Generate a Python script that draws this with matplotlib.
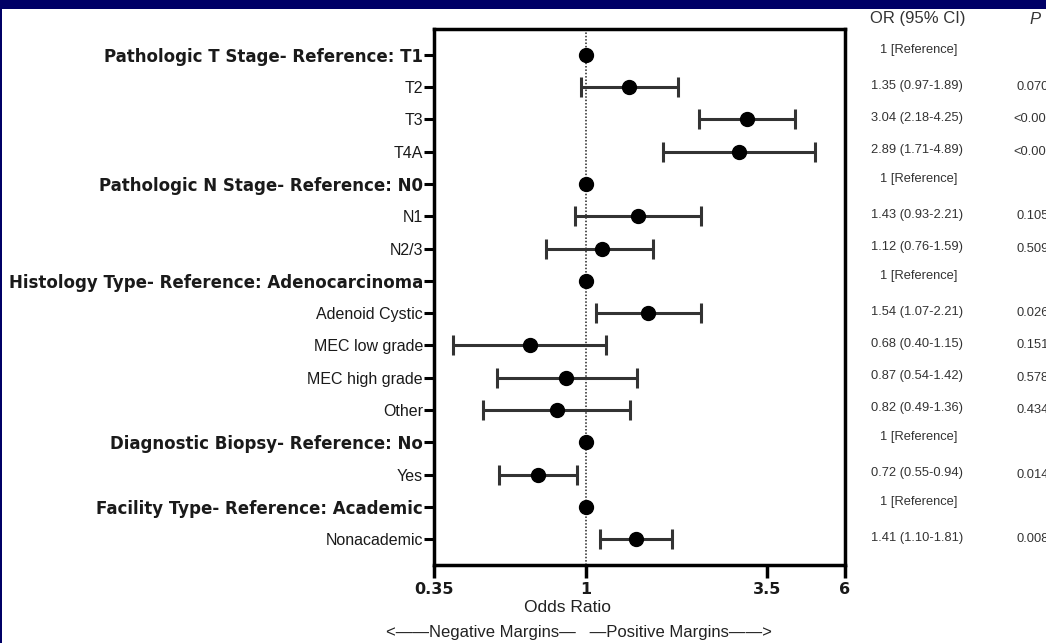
import matplotlib
matplotlib.use("Agg")
import matplotlib.pyplot as plt
from matplotlib.transforms import blended_transform_factory
from matplotlib.patches import Rectangle
import numpy as np

plt.rcParams['font.family'] = ['Liberation Sans', 'DejaVu Sans']

labels = ["Pathologic T Stage- Reference: T1", "T2", "T3", "T4A",
          "Pathologic N Stage- Reference: N0", "N1", "N2/3",
          "Histology Type- Reference: Adenocarcinoma", "Adenoid Cystic",
          "MEC low grade", "MEC high grade", "Other",
          "Diagnostic Biopsy- Reference: No", "Yes",
          "Facility Type- Reference: Academic", "Nonacademic"]
is_header = [True, False, False, False, True, False, False, True, False,
             False, False, False, True, False, True, False]
or_vals = [1, 1.35, 3.04, 2.89, 1, 1.43, 1.12, 1, 1.54, 0.68, 0.87, 0.82, 1, 0.72, 1, 1.41]
ci_lo = [np.nan, 0.97, 2.18, 1.71, np.nan, 0.93, 0.76, np.nan, 1.07, 0.40, 0.54, 0.49, np.nan, 0.55, np.nan, 1.10]
ci_hi = [np.nan, 1.89, 4.25, 4.89, np.nan, 2.21, 1.59, np.nan, 2.21, 1.15, 1.42, 1.36, np.nan, 0.94, np.nan, 1.81]
or_text = ["1 [Reference]", "1.35 (0.97-1.89)", "3.04 (2.18-4.25)", "2.89 (1.71-4.89)",
           "1 [Reference]", "1.43 (0.93-2.21)", "1.12 (0.76-1.59)",
           "1 [Reference]", "1.54 (1.07-2.21)", "0.68 (0.40-1.15)", "0.87 (0.54-1.42)",
           "0.82 (0.49-1.36)", "1 [Reference]", "0.72 (0.55-0.94)",
           "1 [Reference]", "1.41 (1.10-1.81)"]
p_text = ["", "0.070", "<0.001", "<0.001", "", "0.105", "0.509", "", "0.026",
          "0.151", "0.578", "0.434", "", "0.014", "", "0.008"]
xticks = [0.35, 1, 3.5, 6]
xtick_labels = ["0.35", "1", "3.5", "6"]

W, H = 1046, 643
fig = plt.figure(figsize=(W / 100, H / 100), dpi=100)
fig.patch.set_facecolor("white")
fig.patches.append(Rectangle((0, 1 - 9 / H), 1, 9 / H, transform=fig.transFigure,
                             facecolor="#000066", edgecolor="none", zorder=0))
fig.patches.append(Rectangle((0, 0), 2 / W, 1, transform=fig.transFigure,
                             facecolor="#000066", edgecolor="none", zorder=0))

ax = fig.add_axes([434 / W, 1 - 565 / H, (845 - 434) / W, (565 - 29) / H])
n = len(labels)
y = np.arange(n)
or_arr = np.array(or_vals)
lo = np.array(ci_lo)
hi = np.array(ci_hi)

ax.axvline(1, color="#222222", linestyle=(0, (1, 1.2)), linewidth=1.1, zorder=1)
mask = ~np.isnan(lo)
ax.errorbar(or_arr[mask], y[mask], xerr=[or_arr[mask] - lo[mask], hi[mask] - or_arr[mask]],
            fmt="none", ecolor="#333333", elinewidth=2.2, capsize=7.5, capthick=2.2, zorder=2)
ax.plot(or_arr, y, "o", color="black", markersize=10, zorder=3)

ax.set_xscale("log")
ax.set_xlim(0.35, 6)
ax.set_ylim(15.8, -0.8)
ax.set_xticks(xticks)
ax.set_xticklabels(xtick_labels, fontsize=11.5, fontweight="bold", family="DejaVu Sans",
                   color="#1a1a1a")
ax.xaxis.set_minor_locator(matplotlib.ticker.NullLocator())
ax.set_yticks(y)
ax.set_yticklabels(labels, fontsize=11.5)
for lab, hdr in zip(ax.get_yticklabels(), is_header):
    if hdr:
        lab.set_fontweight("bold")
        lab.set_family("DejaVu Sans")
        lab.set_fontsize(12)
    lab.set_color("#1a1a1a")
for s in ax.spines.values():
    s.set_linewidth(2.5)
ax.tick_params(axis="y", length=7, width=2.2, pad=1)
ax.tick_params(axis="x", length=9, width=2.5, pad=3)

fig.text(567 / W, 1 - 608 / H, "Odds Ratio", ha="center", va="center", fontsize=12.5, color="#222222")
fig.text(579 / W, 1 - 632 / H, "<\u2014\u2014Negative Margins\u2014   \u2014Positive Margins\u2014\u2014>",
         ha="center", va="center", fontsize=12, color="#222222")

tr = blended_transform_factory(fig.transFigure, ax.transData)
fig.text(870 / W, 1 - 19 / H, "OR (95% CI)", ha="left", va="center", fontsize=12, color="#333333")
fig.text(1035 / W, 1 - 19 / H, "P", ha="center", va="center", fontsize=12, style="italic", color="#333333")
for i in range(n):
    if or_text[i].startswith("1 ["):
        ax.text(919 / W, y[i] - 0.15, or_text[i], transform=tr, ha="center", va="center",
                fontsize=9.3, color="#333333", clip_on=False)
    else:
        ax.text(871 / W, y[i] - 0.05, or_text[i], transform=tr, ha="left", va="center",
                fontsize=9.3, color="#333333", clip_on=False)
    if p_text[i]:
        ax.text(1033 / W, y[i], p_text[i], transform=tr, ha="center", va="center",
                fontsize=9.3, color="#333333", clip_on=False)

fig.savefig("out.png", dpi=100)
